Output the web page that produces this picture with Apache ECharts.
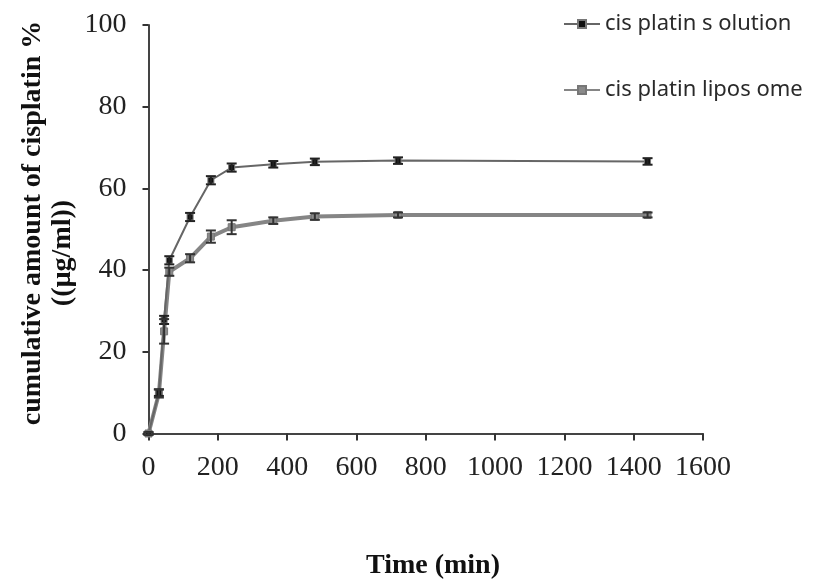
<!DOCTYPE html>
<html><head><meta charset="utf-8">
<script src="https://cdn.jsdelivr.net/npm/echarts@6/dist/echarts.min.js"></script>
<style>html,body{margin:0;padding:0;background:#fff}#c{width:823px;height:586px}</style>
</head><body><div id="c"></div>
<script>
var times = [0, 30, 45, 60, 120, 180, 240, 360, 480, 720, 1440];
var solution = [0, 10, 27.8, 42.4, 53.0, 62.0, 65.1, 65.9, 66.5, 66.8, 66.6];
var solutionErr = [0.3, 0.8, 1.0, 1.0, 1.0, 1.0, 1.0, 0.8, 0.8, 0.8, 0.8];
var liposome = [0, 9.8, 25, 39.6, 42.9, 48.2, 50.5, 52.1, 53.1, 53.5, 53.5];
var liposomeErr = [0.3, 1.0, 3.0, 1.0, 1.0, 1.5, 1.7, 0.8, 0.8, 0.6, 0.6];
var xTicks = [0, 200, 400, 600, 800, 1000, 1200, 1400, 1600];
var yTicks = [0, 20, 40, 60, 80, 100];
var seriesNames = ['cis platin s olution', 'cis platin lipos ome'];
var yTitle = ['cumulative amount of cisplatin %', '((µg/ml))'];
var xTitle = 'Time (min)';

function pairs(xs, ys){ return xs.map(function(x,i){return [x, ys[i]];}); }
function errData(xs, ys, es){ return xs.map(function(x,i){return [x, ys[i]-es[i], ys[i]+es[i]];}); }
function errSeries(data, color){
  return {
    type: 'custom', silent: true, z: 5,
    renderItem: function(params, api){
      var x = api.value(0);
      var lo = api.coord([x, api.value(1)]);
      var hi = api.coord([x, api.value(2)]);
      var w = 5;
      var st = {stroke: color, lineWidth: 2};
      return {type: 'group', children: [
        {type: 'line', shape: {x1: lo[0], y1: lo[1], x2: hi[0], y2: hi[1]}, style: st},
        {type: 'line', shape: {x1: lo[0]-w, y1: lo[1], x2: lo[0]+w, y2: lo[1]}, style: st},
        {type: 'line', shape: {x1: hi[0]-w, y1: hi[1], x2: hi[0]+w, y2: hi[1]}, style: st}
      ]};
    },
    encode: {x: 0, y: [1, 2]},
    data: data
  };
}

var chart = echarts.init(document.getElementById('c'), null, {renderer: 'canvas'});
chart.setOption({
  animation: false,
  backgroundColor: '#fff',
  grid: {left: 148.5, right: 120, top: 25, bottom: 152.5, containLabel: false},
  legend: {
    orient: 'vertical', left: 558, top: 8, itemGap: 44, itemWidth: 36, itemHeight: 10,
    textStyle: {fontFamily: 'Noto Sans', fontSize: 22, color: '#2a2a2a'},
    data: seriesNames
  },
  xAxis: {
    type: 'value', min: 0, max: 1600, interval: 200,
    axisLine: {lineStyle: {color: '#444', width: 2}},
    axisTick: {show: true, length: 7, lineStyle: {color: '#333', width: 2}},
    axisLabel: {fontFamily: 'Liberation Serif', fontSize: 28, color: '#222', margin: 20,
      formatter: function(v){ return String(v); }},
    splitLine: {show: false}
  },
  yAxis: {
    type: 'value', min: 0, max: 100, interval: 20,
    axisLine: {show: true, lineStyle: {color: '#444', width: 2}},
    axisTick: {show: true, length: 6, lineStyle: {color: '#333', width: 2}},
    axisLabel: {fontFamily: 'Liberation Serif', fontSize: 28, color: '#222', margin: 22,
      formatter: function(v){ return String(v); }},
    splitLine: {show: false}
  },
  graphic: [
    {type: 'text', x: 33, y: 223, rotation: Math.PI/2, style: {text: yTitle[0], font: 'bold 28px "Liberation Serif"', fill: '#111', textAlign: 'center', textVerticalAlign: 'middle'}},
    {type: 'text', x: 63, y: 253, rotation: Math.PI/2, style: {text: yTitle[1], font: 'bold 28px "Liberation Serif"', fill: '#111', textAlign: 'center', textVerticalAlign: 'middle'}},
    {type: 'text', x: 433, y: 566, style: {text: xTitle, font: 'bold 28px "Liberation Serif"', fill: '#111', textAlign: 'center', textVerticalAlign: 'middle'}}
  ],
  series: [
    {
      name: seriesNames[0], type: 'line', data: pairs(times, solution), z: 4,
      lineStyle: {color: '#666', width: 2},
      symbol: 'rect', symbolSize: 6,
      itemStyle: {color: '#111', borderColor: '#777', borderWidth: 1}
    },
    {
      name: seriesNames[1], type: 'line', data: pairs(times, liposome), z: 3,
      lineStyle: {color: '#858585', width: 4},
      symbol: 'rect', symbolSize: 7,
      itemStyle: {color: '#8a8a8a', borderColor: '#777', borderWidth: 1}
    },
    errSeries(errData(times, solution, solutionErr), '#222'),
    errSeries(errData(times, liposome, liposomeErr), '#333')
  ]
});
</script></body></html>
